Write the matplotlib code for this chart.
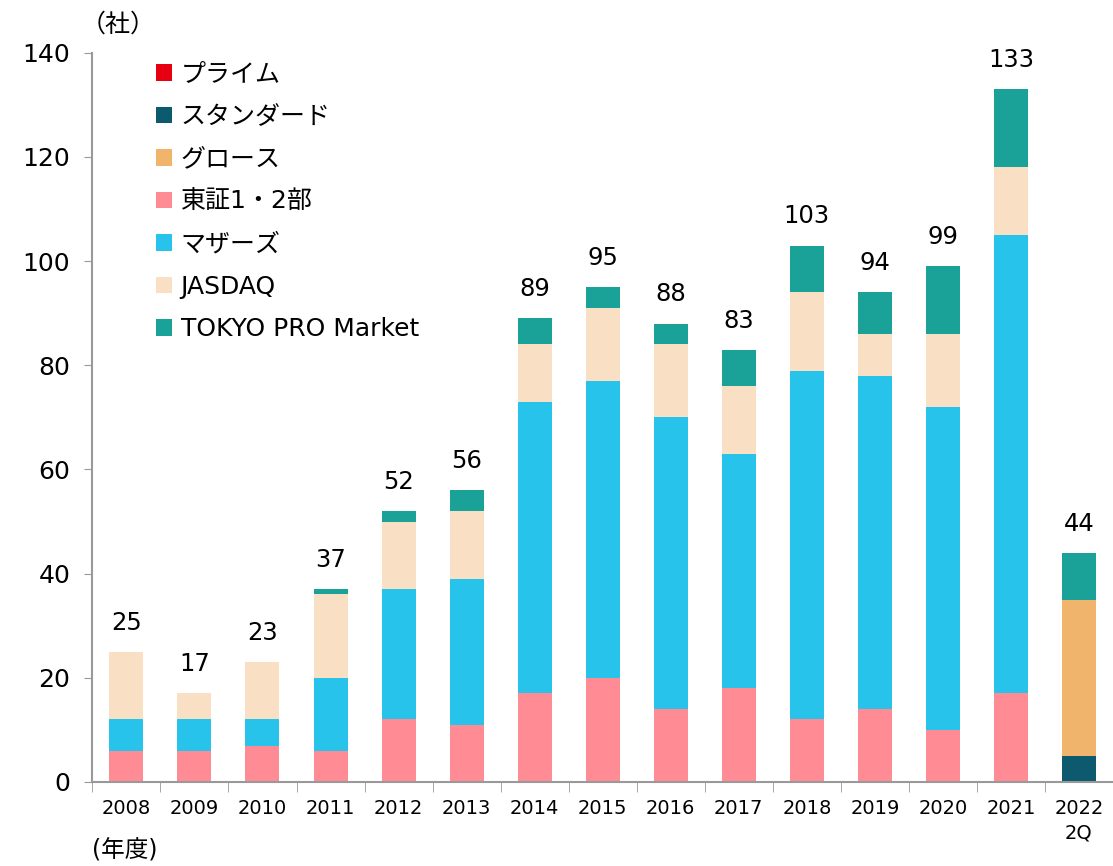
import matplotlib.pyplot as plt
import numpy as np
from matplotlib.patches import Patch

plt.rcParams['font.family'] = ['DejaVu Sans', 'Noto Sans CJK JP']

years = ['2008', '2009', '2010', '2011', '2012', '2013', '2014', '2015',
         '2016', '2017', '2018', '2019', '2020', '2021', '2022\n2Q']
prime = [0, 0, 0, 0, 0, 0, 0, 0, 0, 0, 0, 0, 0, 0, 0]
standard = [0, 0, 0, 0, 0, 0, 0, 0, 0, 0, 0, 0, 0, 0, 5]
growth = [0, 0, 0, 0, 0, 0, 0, 0, 0, 0, 0, 0, 0, 0, 30]
tse12 = [6, 6, 7, 6, 12, 11, 17, 20, 14, 18, 12, 14, 10, 17, 0]
mothers = [6, 6, 5, 14, 25, 28, 56, 57, 56, 45, 67, 64, 62, 88, 0]
jasdaq = [13, 5, 11, 16, 13, 13, 11, 14, 14, 13, 15, 8, 14, 13, 0]
tpm = [0, 0, 0, 1, 2, 4, 5, 4, 4, 7, 9, 8, 13, 15, 9]

series = [
    ('プライム', prime, '#E60012'),
    ('スタンダード', standard, '#0D5A6E'),
    ('グロース', growth, '#F0B46C'),
    ('東証1・2部', tse12, '#FF8C94'),
    ('マザーズ', mothers, '#28C3EA'),
    ('JASDAQ', jasdaq, '#F9E0C4'),
    ('TOKYO PRO Market', tpm, '#1AA198'),
]

fig = plt.figure(figsize=(11.13, 8.66), dpi=100)
ax = fig.add_axes([0.083, 0.097, 0.917, 0.842])

x = np.arange(len(years))
bottom = np.zeros(len(years))
handles = []
for name, vals, color in series:
    vals = np.array(vals, dtype=float)
    ax.bar(x, vals, 0.5, bottom=bottom, color=color, edgecolor='none')
    bottom += vals
    handles.append(Patch(facecolor=color, label=name))

for xi, total in zip(x, bottom):
    ax.text(xi, total + 3.3, f'{int(total)}', ha='center', va='bottom', fontsize=17.5)

ax.set_xlim(-0.5, len(years) - 0.5)
ax.set_ylim(0, 140)
ax.set_yticks(np.arange(0, 141, 20))
ax.tick_params(axis='y', labelsize=18, length=6, color='#999999', direction='out', pad=10)
ax.set_xticks(x)
ax.set_xticklabels(years, fontsize=14, linespacing=1.4)
ax.tick_params(axis='x', length=0, pad=12)
ax.set_xticks(np.arange(-0.5, len(years), 1), minor=True)
ax.tick_params(axis='x', which='minor', length=7, color='#999999', direction='out')

for s in ['top', 'right']:
    ax.spines[s].set_visible(False)
for s in ['left', 'bottom']:
    ax.spines[s].set_color('#999999')
    ax.spines[s].set_linewidth(1.5)

leg = ax.legend(handles=handles, loc='upper left', bbox_to_anchor=(0.04, 1.018),
                frameon=False, fontsize=18, handlelength=0.65, handleheight=0.65,
                handletextpad=0.35, labelspacing=0.74)

fig.text(0.072, 0.972, '（社）', fontsize=18, ha='left', va='center')
fig.text(0.083, 0.018, '(年度)', fontsize=17, ha='left', va='center')

fig.savefig('out.png', dpi=100)
